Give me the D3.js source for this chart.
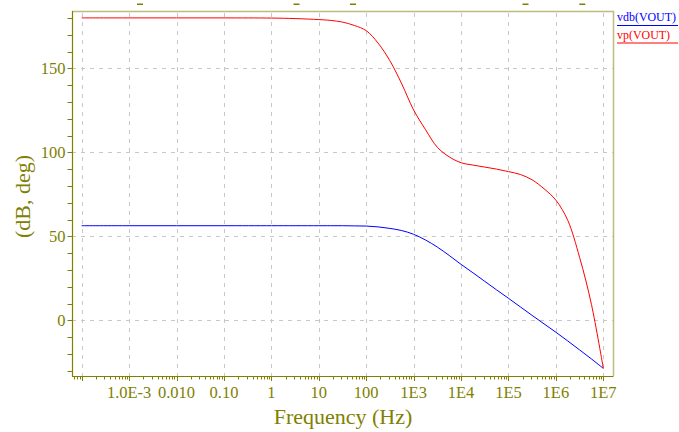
<!DOCTYPE html>
<html><head><meta charset="utf-8">
<script src="https://cdn.jsdelivr.net/npm/d3@7"></script>
<style>body{margin:0;background:#fff}svg{display:block}</style>
</head><body>
<svg id="c" width="679" height="432"></svg>
<script>
// ---- data ----
const freqs = [1e-4,1e-3,1e-2,1e-1,1,3.16,10,17.8,31.6,56.2,100,178,316,562,1e3,1.78e3,3.16e3,5.62e3,1e4,1.78e4,3.16e4,5.62e4,1e5,1.78e5,3.16e5,5.62e5,1e6,1.78e6,3.16e6,5.62e6,1e7];
const vdb = [56.3,56.3,56.3,56.3,56.3,56.3,56.3,56.3,56.3,56.2,56.1,55.6,54.7,53.4,51.2,47.8,43.6,38.6,33.3,28.3,23.2,18.1,13.1,8.0,2.9,-2.1,-7.1,-12.3,-17.6,-23.0,-28.6];
const vp = [180,180,180,180,179.9,179.6,179,178.5,177.5,175.5,172.4,165,154.5,140.7,125.2,113.5,103,97.3,93.8,92.4,91.2,90,88.5,86.8,83.6,78.3,71.5,59.5,37.5,9.5,-28.6];
const xTickVals = [1e-4,1e-3,1e-2,1e-1,1,10,100,1e3,1e4,1e5,1e6,1e7];
const xTickLabels = ["","1.0E-3","0.010","0.10","1","10","100","1E3","1E4","1E5","1E6","1E7"];
const yTickVals = [0,50,100,150];
const yTickLabels = ["0","50","100","150"];
const seriesNames = ["vdb(VOUT)","vp(VOUT)"];
const seriesColors = ["#0000ff","#ff0000"];

// ---- layout ----
const svg = d3.select("#c");
const L = 72, R = 613.5, T = 11, B = 376;
const x = d3.scaleLog().domain([1e-4,1e7]).range([81.7,603.3]);
const y = d3.scaleLinear().domain([0,150]).range([320.3,68.3]);
const olive = "#808000";
const serif = "'Liberation Serif','Times New Roman',serif";

// grid
const g = svg.append("g");
g.selectAll(".vg").data(xTickVals).join("line")
  .attr("x1",d=>Math.round(x(d))+0.5).attr("x2",d=>Math.round(x(d))+0.5)
  .attr("y1",T+2).attr("y2",B)
  .attr("stroke","#c8c8c8").attr("stroke-dasharray","4,5");
g.selectAll(".hg").data(yTickVals).join("line")
  .attr("y1",d=>Math.round(y(d))+0.5).attr("y2",d=>Math.round(y(d))+0.5)
  .attr("x1",L).attr("x2",R)
  .attr("stroke","#c8c8c8").attr("stroke-dasharray","4,5");

// frame top/right
svg.append("path").attr("d",`M${L},${T+0.5}H${R}V${B}`)
  .attr("fill","none").attr("stroke","#bcbc80").attr("stroke-width",1.5);

// curves
const line = (vals)=>d3.line().x((d,i)=>x(freqs[i])).y(d=>y(d)).curve(d3.curveCatmullRom.alpha(0.5))(vals);
[vdb,vp].forEach((s,i)=>{
  svg.append("path").attr("d",line(s)).attr("fill","none")
    .attr("stroke",seriesColors[i]).attr("stroke-width",1);
});

// axes lines
svg.append("line").attr("x1",L+0.5).attr("x2",L+0.5).attr("y1",T).attr("y2",B+0.5)
  .attr("stroke",olive).attr("stroke-width",1.2);
svg.append("line").attr("x1",L).attr("x2",R).attr("y1",B+0.5).attr("y2",B+0.5)
  .attr("stroke",olive).attr("stroke-width",1.2);

// x ticks
const minor = [];
for (let e=-5;e<=7;e++) for (let m=2;m<=9;m++){const v=m*Math.pow(10,e); const px=x(v); if(px>L+1&&px<R-1) minor.push(v);}
svg.selectAll(".xm").data(minor).join("line")
  .attr("x1",d=>Math.round(x(d))+0.5).attr("x2",d=>Math.round(x(d))+0.5)
  .attr("y1",B).attr("y2",B+3.5).attr("stroke",olive);
svg.selectAll(".xM").data(xTickVals).join("line")
  .attr("x1",d=>Math.round(x(d))+0.5).attr("x2",d=>Math.round(x(d))+0.5)
  .attr("y1",B).attr("y2",B+5).attr("stroke",olive);
svg.selectAll(".xl").data(xTickVals).join("text")
  .attr("x",d=>x(d)).attr("y",397.5).attr("text-anchor","middle")
  .attr("font-family",serif).attr("font-size",16.5).attr("fill",olive)
  .text((d,i)=>xTickLabels[i]);

// y ticks
const yMinor = d3.range(-30,190,10);
svg.selectAll(".ym").data(yMinor).join("line")
  .attr("y1",d=>Math.round(y(d))+0.5).attr("y2",d=>Math.round(y(d))+0.5)
  .attr("x1",L-4.5).attr("x2",L).attr("stroke",olive);
svg.selectAll(".yl").data(yTickVals).join("text")
  .attr("x",65.5).attr("y",d=>y(d)).attr("dy","0.35em").attr("text-anchor","end")
  .attr("font-family",serif).attr("font-size",16.5).attr("fill",olive)
  .text((d,i)=>yTickLabels[i]);

// titles
svg.append("text").attr("x",343).attr("y",424).attr("text-anchor","middle")
  .attr("font-family",serif).attr("font-size",22).attr("fill",olive).text("Frequency (Hz)");
svg.append("text").attr("transform","translate(30,196.5) rotate(-90)").attr("text-anchor","middle")
  .attr("font-family",serif).attr("font-size",22).attr("fill",olive).text("(dB, deg)");

// small top marks
[140,296.5,353,525.5,582.3].forEach(cx=>{
  svg.append("rect").attr("x",cx-3).attr("y",3.5).attr("width",6).attr("height",1.5).attr("fill",olive);
});

// legend
seriesNames.forEach((n,i)=>{
  const by = 21 + i*17.5;
  svg.append("text").attr("x",617).attr("y",by).attr("font-family",serif).attr("font-size",12.5)
    .attr("textLength", i===0 ? 59 : 53).attr("lengthAdjust","spacingAndGlyphs")
    .attr("fill",seriesColors[i]).text(n);
  svg.append("line").attr("x1",617).attr("x2",678).attr("y1",by+4.5).attr("y2",by+4.5)
    .attr("stroke",seriesColors[i]).attr("stroke-width",1.2);
});
</script>
</body></html>
